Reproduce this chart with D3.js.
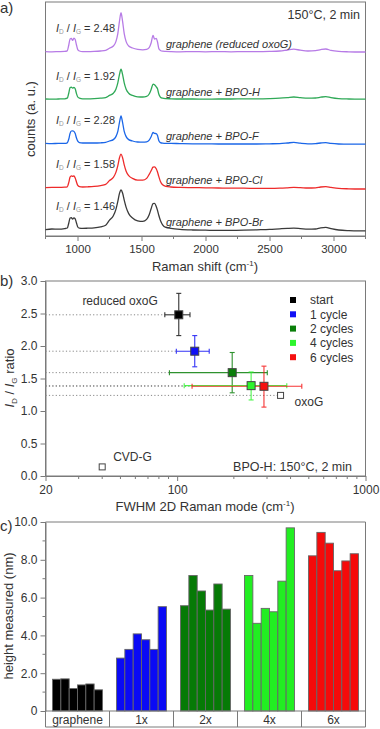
<!DOCTYPE html>
<html>
<head>
<meta charset="utf-8">
<script src="https://cdn.jsdelivr.net/npm/d3@7"></script>
<style>
  body { margin: 0; background: #fff; }
  svg { font-family: "Liberation Sans", Arial, sans-serif; }
</style>
</head>
<body>
<svg id="chart" width="380" height="729"></svg>
<script>
// ---- panel a: Raman spectra ----
const ramanShift = [750, 800, 850, 900, 920, 932, 942, 952, 962, 972, 982, 992, 1002, 1015, 1040, 1080, 1130, 1180, 1220,
  1250, 1280, 1300, 1315, 1328, 1340, 1352, 1365, 1380, 1400, 1430, 1470, 1510, 1540, 1560, 1575, 1590, 1602, 1615, 1625,
  1635, 1648, 1665, 1690, 1730, 1800, 1900, 2000, 2100, 2200, 2300, 2400, 2500, 2580, 2640, 2690, 2740, 2800, 2860, 2900,
  2940, 2980, 3040, 3120, 3200, 3250];

const countsReducedOxoG = [92.2, 92.1, 92.2, 92.3, 92.6, 95.5, 98.5, 98.8, 97.8, 98.9, 98.2, 95.5, 93.2, 92.5, 92.2, 92.2, 92.3, 92.5, 92.8,
  93.9, 95.0, 97.2, 101.2, 107.4, 111.7, 107.4, 101.2, 97.2, 95.0, 94.0, 93.3, 93.1, 93.3, 94.2, 96.5, 100.3, 98.5, 98.8, 97.0,
  93.8, 92.8, 92.4, 92.3, 92.2, 92.1, 92.2, 92.1, 92.2, 92.1, 92.2, 92.2, 92.3, 92.5, 93.0, 93.4, 92.9, 92.5, 92.7, 93.2,
  93.5, 92.8, 92.3, 92.1, 92.0, 92.0];
const countsBPOH = [68.5, 68.4, 68.5, 68.6, 68.9, 71.5, 74.2, 74.4, 73.9, 74.3, 73.6, 71.2, 69.5, 68.9, 68.6, 68.6, 68.7, 68.9, 69.2,
  70.3, 71.4, 73.4, 76.6, 80.8, 83.4, 80.8, 76.6, 73.4, 71.4, 70.3, 69.6, 69.5, 69.8, 71.0, 73.2, 75.9, 75.6, 74.6, 73.6,
  71.0, 69.4, 68.9, 68.7, 68.6, 68.5, 68.5, 68.4, 68.5, 68.5, 68.6, 68.6, 68.7, 68.9, 69.2, 69.5, 69.2, 68.9, 69.0, 69.4,
  69.7, 69.2, 68.7, 68.5, 68.4, 68.4];
const countsBPOF = [46.3, 46.2, 46.3, 46.3, 46.6, 48.5, 51.3, 52.5, 52.6, 52.3, 51.2, 49.0, 47.4, 46.7, 46.5, 46.5, 46.5, 46.6, 46.8,
  47.5, 48.2, 49.7, 52.3, 56.8, 60.0, 56.8, 52.3, 49.7, 48.2, 47.5, 47.0, 46.9, 47.1, 47.9, 49.6, 51.8, 51.3, 51.2, 50.2,
  47.8, 46.7, 46.4, 46.3, 46.3, 46.2, 46.1, 46.1, 46.0, 46.0, 46.0, 46.0, 46.1, 46.2, 46.5, 46.8, 46.4, 46.1, 46.2, 46.5,
  46.7, 46.3, 46.0, 45.9, 45.9, 45.9];
const countsBPOCl = [24.2, 24.3, 24.3, 24.4, 24.6, 26.8, 29.5, 30.1, 29.8, 30.0, 29.0, 27.0, 25.3, 24.7, 24.5, 24.6, 24.8, 25.2, 25.8,
  27.7, 29.3, 31.8, 35.2, 39.1, 40.9, 39.2, 35.6, 32.4, 30.2, 28.8, 27.9, 27.9, 28.8, 30.8, 32.6, 34.4, 34.6, 33.6, 32.0,
  29.8, 27.3, 25.6, 24.8, 24.5, 24.3, 24.2, 24.1, 24.0, 23.9, 23.9, 23.8, 23.8, 23.9, 24.1, 24.3, 24.2, 24.0, 24.1, 24.5,
  24.7, 24.3, 23.8, 23.6, 23.5, 23.5];
const countsBPOBr = [3.2, 3.5, 3.4, 3.7, 4.0, 6.5, 9.0, 9.2, 8.4, 9.1, 8.6, 6.5, 4.5, 3.9, 3.8, 3.9, 4.1, 4.6, 5.4,
  7.9, 10.1, 13.3, 17.3, 21.3, 23.0, 21.5, 17.9, 14.3, 11.2, 9.0, 7.6, 7.3, 8.3, 10.6, 13.6, 16.2, 16.3, 14.8, 12.8,
  10.4, 7.8, 5.6, 4.3, 3.8, 3.3, 3.0, 2.9, 2.8, 2.8, 2.9, 3.1, 3.3, 3.6, 3.8, 3.9, 3.7, 3.4, 3.5, 4.1,
  4.3, 3.7, 3.0, 2.7, 2.6, 2.6];

const sampleNames = ['graphene (reduced oxoG)', 'graphene + BPO-H', 'graphene + BPO-F', 'graphene + BPO-Cl', 'graphene + BPO-Br'];
const ratioLabels = ['2.48', '1.92', '2.28', '1.58', '1.46'];
const spectrumColors = ['#b77be6', '#2fa957', '#1a66e8', '#ee2b2b', '#3a3a3a'];
const shiftTicks = [1000, 1500, 2000, 2500, 3000];

// ---- panel b: ID/IG vs FWHM 2D ----
const cycleNames = ['start', '1 cycle', '2 cycles', '4 cycles', '6 cycles'];
const cycleColors = ['#000000', '#1010f5', '#0a7f0a', '#2df52d', '#f51010'];
const fwhm2D = [102, 124, 196, 247, 289];
const fwhm2DLow = [86, 99, 91, 109, 120];
const fwhm2DHigh = [117, 148, 301, 382, 459];
const idIg = [2.48, 1.92, 1.59, 1.39, 1.38];
const idIgLow = [2.16, 1.68, 1.28, 1.17, 1.06];
const idIgHigh = [2.81, 2.16, 1.90, 1.60, 1.69];
const refNames = ['oxoG', 'CVD-G'];
const refFwhm = [354, 40];
const refIdIg = [1.24, 0.14];

// ---- panel c: measured heights ----
const heightGroups = ['graphene', '1x', '2x', '4x', '6x'];
const heightColors = ['#000000', '#0a0af5', '#067a06', '#22ee22', '#f50a0a'];
const heightsGraphene = [1.68, 1.70, 1.19, 1.38, 1.43, 1.12];
const heights1x = [2.80, 3.26, 4.08, 3.77, 3.26, 5.52];
const heights2x = [5.57, 7.17, 6.35, 5.34, 6.72, 5.39];
const heights4x = [7.17, 4.64, 5.43, 5.25, 6.87, 9.69];
const heights6x = [8.21, 9.45, 8.88, 7.42, 7.94, 8.32];

const svg = d3.select('#chart');
const left = 45.5, right = 365.5;
const axisColor = '#7a7a7a', textColor = '#333';

function styleAxis(g, size) {
  g.select('.domain').attr('stroke', axisColor);
  g.selectAll('.tick line').attr('stroke', axisColor);
  g.selectAll('.tick text').attr('fill', textColor).attr('font-size', size).attr('font-family', 'Liberation Sans, Arial, sans-serif');
}

function minorTicks(g, values, scale, y, len, vertical) {
  g.selectAll(null).data(values).enter().append('line')
    .attr(vertical ? 'y1' : 'x1', d => scale(d)).attr(vertical ? 'y2' : 'x2', d => scale(d))
    .attr(vertical ? 'x1' : 'y1', y).attr(vertical ? 'x2' : 'y2', vertical ? y - len : y + len)
    .attr('stroke', axisColor);
}

// ================= a) =================
const xA = d3.scaleLinear().domain([750, 3250]).range([left, right]);
const yA = d3.scaleLinear().domain([0, 117]).range([236, 2]);
const gA = svg.append('g');

gA.append('rect').attr('x', left).attr('y', 2).attr('width', right - left).attr('height', 234)
  .attr('fill', 'none').attr('stroke', axisColor);

const axA = gA.append('g').attr('transform', 'translate(0,236)')
  .call(d3.axisBottom(xA).tickValues(shiftTicks).tickFormat(d3.format('d')).tickSize(5).tickSizeOuter(0).tickPadding(4));
styleAxis(axA, 11.5);
minorTicks(gA, [750, 1250, 1750, 2250, 2750, 3250], xA, 236, 3, false);

const spectra = [countsReducedOxoG, countsBPOH, countsBPOF, countsBPOCl, countsBPOBr];
const line = d3.line().x(d => xA(d[0])).y(d => yA(d[1])).curve(d3.curveMonotoneX);

spectra.forEach((counts, i) => {
  const pts = ramanShift.map((s, j) => [s, counts[j]]);
  gA.append('path').datum(pts).attr('d', line)
    .attr('fill', 'none').attr('stroke', spectrumColors[i]).attr('stroke-width', 1.3);

  const base = yA(counts[0]);
  const t = gA.append('text').attr('x', 56).attr('y', base - 19.5).attr('font-size', 11).attr('fill', textColor);
  t.append('tspan').attr('font-style', 'italic').text('I');
  t.append('tspan').attr('font-size', 6.5).attr('dy', 2).attr('fill', '#999').text('D');
  t.append('tspan').attr('dy', -2).text(' / ');
  t.append('tspan').attr('font-style', 'italic').text('I');
  t.append('tspan').attr('font-size', 6.5).attr('dy', 2).attr('fill', '#999').text('G');
  t.append('tspan').attr('dy', -2).text(' = ' + ratioLabels[i]);

  gA.append('text').attr('x', 166).attr('y', base - 3.5).attr('font-size', 11)
    .attr('font-style', 'italic').attr('fill', textColor).text(sampleNames[i]);
});

gA.append('text').attr('x', 360).attr('y', 19).attr('text-anchor', 'end')
  .attr('font-size', 12.5).attr('fill', textColor).text('150°C, 2 min');

gA.append('text').attr('transform', 'translate(35,119) rotate(-90)').attr('text-anchor', 'middle')
  .attr('font-size', 13).attr('fill', textColor).text('counts (a. u.)');

const titleA = gA.append('text').attr('x', 205).attr('y', 271).attr('text-anchor', 'middle')
  .attr('font-size', 13).attr('fill', textColor);
titleA.append('tspan').text('Raman shift (cm');
titleA.append('tspan').attr('font-size', 8).attr('dy', -5).text('-1');
titleA.append('tspan').attr('dy', 5).text(')');

svg.append('text').attr('x', 0).attr('y', 13).attr('font-size', 15).attr('fill', textColor).text('a)');

// ================= b) =================
const xB = d3.scaleLog().domain([20, 1000]).range([left, right]);
const yB = d3.scaleLinear().domain([0, 3]).range([476, 281]);
const gB = svg.append('g');

gB.append('rect').attr('x', left).attr('y', 281).attr('width', right - left).attr('height', 195)
  .attr('fill', 'none').attr('stroke', axisColor);

const axBx = gB.append('g').attr('transform', 'translate(0,476)')
  .call(d3.axisBottom(xB).tickValues([20, 100, 1000]).tickFormat(d3.format('d')).tickSize(5).tickSizeOuter(0).tickPadding(4));
styleAxis(axBx, 12);
minorTicks(gB, [30, 40, 50, 60, 70, 80, 90, 200, 300, 400, 500, 600, 700, 800, 900], xB, 476, 3, false);

const axBy = gB.append('g').attr('transform', `translate(${left},0)`)
  .call(d3.axisLeft(yB).tickValues(d3.range(0, 3.01, 0.5)).tickFormat(d3.format('.1f')).tickSize(5).tickSizeOuter(0).tickPadding(3));
styleAxis(axBy, 12);

// dotted guide lines
const guideY = idIg.concat([refIdIg[0]]);
const guideX = fwhm2DLow.concat([refFwhm[0] * 0.96]);
gB.selectAll(null).data(guideY).enter().append('line')
  .attr('x1', left).attr('x2', (d, i) => xB(guideX[i]))
  .attr('y1', d => yB(d)).attr('y2', d => yB(d))
  .attr('stroke', '#888').attr('stroke-width', 1).attr('stroke-dasharray', '1.2,2.2');

// error bars + points
const cap = 2.5;
cycleNames.forEach((name, i) => {
  const c = i === 0 ? '#333' : cycleColors[i];
  const px = xB(fwhm2D[i]), py = yB(idIg[i]);
  const g = gB.append('g').attr('stroke', c).attr('stroke-width', 1.1).attr('opacity', i === 0 ? 1 : 0.85);
  g.append('line').attr('x1', xB(fwhm2DLow[i])).attr('x2', xB(fwhm2DHigh[i])).attr('y1', py).attr('y2', py);
  g.append('line').attr('x1', xB(fwhm2DLow[i])).attr('x2', xB(fwhm2DLow[i])).attr('y1', py - cap).attr('y2', py + cap);
  g.append('line').attr('x1', xB(fwhm2DHigh[i])).attr('x2', xB(fwhm2DHigh[i])).attr('y1', py - cap).attr('y2', py + cap);
  g.append('line').attr('x1', px).attr('x2', px).attr('y1', yB(idIgLow[i])).attr('y2', yB(idIgHigh[i]));
  g.append('line').attr('x1', px - cap).attr('x2', px + cap).attr('y1', yB(idIgLow[i])).attr('y2', yB(idIgLow[i]));
  g.append('line').attr('x1', px - cap).attr('x2', px + cap).attr('y1', yB(idIgHigh[i])).attr('y2', yB(idIgHigh[i]));
});
cycleNames.forEach((name, i) => {
  gB.append('rect').attr('x', xB(fwhm2D[i]) - 4).attr('y', yB(idIg[i]) - 4).attr('width', 8).attr('height', 8)
    .attr('fill', cycleColors[i]).attr('stroke', '#444').attr('stroke-width', 1);
});
refNames.forEach((name, i) => {
  gB.append('rect').attr('x', xB(refFwhm[i]) - 3).attr('y', yB(refIdIg[i]) - 3).attr('width', 6).attr('height', 6)
    .attr('fill', '#fff').attr('stroke', '#444').attr('stroke-width', 1);
});

gB.append('text').attr('x', xB(fwhm2D[0]) - 21).attr('y', yB(idIg[0]) - 10).attr('text-anchor', 'end')
  .attr('font-size', 12).attr('fill', textColor).text('reduced oxoG');
gB.append('text').attr('x', xB(refFwhm[0]) + 14).attr('y', yB(refIdIg[0]) + 11)
  .attr('font-size', 12).attr('fill', textColor).text(refNames[0]);
gB.append('text').attr('x', xB(refFwhm[1]) + 11).attr('y', yB(refIdIg[1]) - 6)
  .attr('font-size', 12).attr('fill', textColor).text(refNames[1]);
gB.append('text').attr('x', 352).attr('y', 471).attr('text-anchor', 'end')
  .attr('font-size', 12.5).attr('fill', textColor).text('BPO-H: 150°C, 2 min');

// legend
const leg = gB.append('g').attr('transform', 'translate(293,300)');
cycleNames.forEach((name, i) => {
  leg.append('rect').attr('x', -3).attr('y', i * 14.3 - 3).attr('width', 6).attr('height', 6).attr('fill', cycleColors[i]);
  leg.append('text').attr('x', 17).attr('y', i * 14.3 + 4.3).attr('font-size', 12).attr('fill', textColor).text(name);
});

const titleBy = gB.append('text').attr('transform', 'translate(14,378) rotate(-90)').attr('text-anchor', 'middle')
  .attr('font-size', 13).attr('fill', textColor);
titleBy.append('tspan').attr('font-style', 'italic').text('I');
titleBy.append('tspan').attr('font-size', 8).attr('dy', 3).text('D');
titleBy.append('tspan').attr('dy', -3).text(' / ');
titleBy.append('tspan').attr('font-style', 'italic').text('I');
titleBy.append('tspan').attr('font-size', 8).attr('dy', 3).text('G');
titleBy.append('tspan').attr('dy', -3).text(' ratio');

const titleBx = gB.append('text').attr('x', 205).attr('y', 511).attr('text-anchor', 'middle')
  .attr('font-size', 13).attr('fill', textColor);
titleBx.append('tspan').text('FWHM 2D Raman mode (cm');
titleBx.append('tspan').attr('font-size', 8).attr('dy', -5).text('-1');
titleBx.append('tspan').attr('dy', 5).text(')');

svg.append('text').attr('x', 0).attr('y', 286).attr('font-size', 15).attr('fill', textColor).text('b)');

// ================= c) =================
const heightTable = [heightsGraphene, heights1x, heights2x, heights4x, heights6x];
const xC = d3.scaleBand().domain(heightGroups).range([left, right]).paddingInner(0.22).paddingOuter(0.11);
const xCi = d3.scaleBand().domain(d3.range(6)).range([0, xC.bandwidth()]);
const yC = d3.scaleLinear().domain([0, 10]).range([711, 522]);
const gC = svg.append('g');

heightTable.forEach((vals, gi) => {
  gC.selectAll(null).data(vals).enter().append('rect')
    .attr('x', (d, j) => xC(heightGroups[gi]) + xCi(j))
    .attr('y', d => yC(d))
    .attr('width', xCi.bandwidth())
    .attr('height', d => yC(0) - yC(d))
    .attr('fill', heightColors[gi]).attr('stroke', '#666').attr('stroke-width', 0.9);
});

// frame + category row
gC.append('path').attr('d', `M${left},711 V522 H${right} V727 H${left} V711 H${right}`)
  .attr('fill', 'none').attr('stroke', axisColor);
const step = xC.step();
gC.selectAll(null).data(d3.range(1, heightGroups.length)).enter().append('line')
  .attr('x1', d => left + d * step).attr('x2', d => left + d * step).attr('y1', 711).attr('y2', 727)
  .attr('stroke', axisColor);
gC.selectAll(null).data(heightGroups).enter().append('text')
  .attr('x', d => xC(d) + xC.bandwidth() / 2).attr('y', 723.5).attr('text-anchor', 'middle')
  .attr('font-size', 12).attr('fill', textColor).text(d => d);

const axCy = gC.append('g').attr('transform', `translate(${left},0)`)
  .call(d3.axisLeft(yC).tickValues([0, 2, 4, 6, 8, 10]).tickFormat(d => d === 0 ? '0' : d.toFixed(1))
    .tickSize(5).tickSizeOuter(0).tickPadding(3));
styleAxis(axCy, 12);
minorTicks(gC, [1, 3, 5, 7, 9], yC, left, 3, true);

gC.append('text').attr('transform', 'translate(13,616) rotate(-90)').attr('text-anchor', 'middle')
  .attr('font-size', 13).attr('fill', textColor).text('height measured (nm)');

svg.append('text').attr('x', 0).attr('y', 531).attr('font-size', 15).attr('fill', textColor).text('c)');
</script>
</body>
</html>
